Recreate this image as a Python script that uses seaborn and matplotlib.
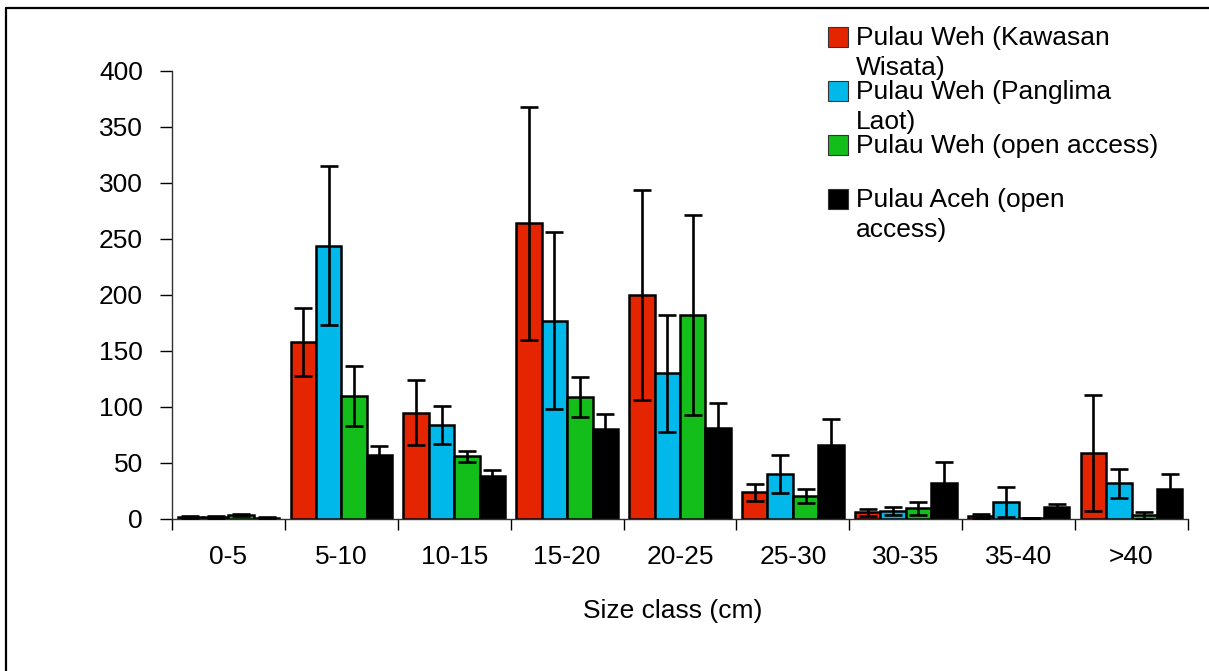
import numpy as np
import pandas as pd
import matplotlib
matplotlib.use("Agg")
import matplotlib.pyplot as plt
from matplotlib.patches import Rectangle
from matplotlib.lines import Line2D
import seaborn as sns

# size classes and mean counts (with error) per site
size_classes = ["0-5", "5-10", "10-15", "15-20", "20-25", "25-30", "30-35", "35-40", ">40"]
sites = ["Pulau Weh (Kawasan\nWisata)", "Pulau Weh (Panglima\nLaot)",
         "Pulau Weh (open access)", "Pulau Aceh (open\naccess)"]

kawasan = [2, 158, 95, 264, 200, 24, 6, 2.5, 59]
kawasan_err = [1, 30, 29, 104, 94, 7.5, 3, 2, 52]
panglima = [2, 244, 84, 177, 130, 40, 7, 15, 32]
panglima_err = [1, 71, 17, 79, 52, 17, 3.5, 13.5, 13]
weh_open = [3.5, 110, 56, 109, 182, 20.5, 9.5, 1.2, 3.3]
weh_open_err = [1, 27, 5, 18, 89, 6, 5.5, 0, 3]
aceh = [1, 57, 38, 80, 81, 66, 32, 10.5, 26.5]
aceh_err = [0.5, 8.5, 6, 14, 23, 23.5, 19, 3, 13.5]

colors = ["#E52400", "#00B9EA", "#14BE1A", "#000000"]

values = [kawasan, panglima, weh_open, aceh]
errors = [kawasan_err, panglima_err, weh_open_err, aceh_err]

df = pd.DataFrame({
    "size": size_classes * len(sites),
    "site": np.repeat(sites, len(size_classes)),
    "count": np.concatenate(values),
})

sns.set_style("ticks")
plt.rcParams["font.family"] = ["Liberation Sans", "DejaVu Sans"]
plt.rcParams["text.color"] = "black"
plt.rcParams["xtick.color"] = "black"
plt.rcParams["ytick.color"] = "black"
plt.rcParams["axes.labelcolor"] = "black"
FS = 19

W, H = 1209, 671
fig = plt.figure(figsize=(W / 100, H / 100), dpi=100)
ax = fig.add_axes([172 / W, 1 - 519 / H, (1188 - 172) / W, (519 - 71) / H])

sns.barplot(data=df, x="size", y="count", hue="site", hue_order=sites,
            order=size_classes, palette=colors, saturation=1, width=0.9, gap=0,
            edgecolor="black", linewidth=1.8, errorbar=None,
            legend=False, ax=ax)

# error bars on top of each hue's bars
for cont, vals, errs in zip(ax.containers, values, errors):
    xs = [p.get_x() + p.get_width() / 2 for p in cont.patches]
    ax.errorbar(xs, vals, yerr=errs, fmt="none", ecolor="black",
                elinewidth=1.9, capsize=6.5, capthick=1.9, zorder=5)

ax.set_ylim(0, 400)
ax.set_xlim(-0.5, len(size_classes) - 0.5)
ax.set_yticks(range(0, 401, 50))
ax.tick_params(axis="y", direction="out", length=9, width=1, pad=12, labelsize=FS)
ax.tick_params(axis="x", which="major", length=0, pad=19, labelsize=FS)
ax.set_xticks(np.arange(-0.5, len(size_classes), 1), minor=True)
ax.tick_params(axis="x", which="minor", direction="out", length=8, width=1)
sns.despine(ax=ax)
for s in ["left", "bottom"]:
    ax.spines[s].set_linewidth(1)
    ax.spines[s].set_color("#303030")

ax.set_ylabel("")
ax.set_xlabel("Size class (cm)", fontsize=FS)
ax.xaxis.set_label_coords(0.493, -0.178)

# legend drawn by hand so the keys sit on the first text line
for i, (lab, col) in enumerate(zip(sites, colors)):
    yc = 37 + 54 * i
    fig.add_artist(Rectangle((828 / W, 1 - (yc + 10) / H), 20 / W, 20 / H,
                             transform=fig.transFigure, facecolor=col,
                             edgecolor="#333333", linewidth=0.8))
    fig.text(856 / W, 1 - (yc - 11) / H, lab, fontsize=FS, va="top",
             ha="left", linespacing=1.3)

# outer frame (only left and top edges visible)
fig.add_artist(Line2D([6 / W, 6 / W], [0, 1 - 8 / H], transform=fig.transFigure,
                      color="black", linewidth=1.6))
fig.add_artist(Line2D([6 / W, 1], [1 - 8 / H, 1 - 8 / H], transform=fig.transFigure,
                      color="black", linewidth=1.6))

fig.savefig("out.png", dpi=100)
